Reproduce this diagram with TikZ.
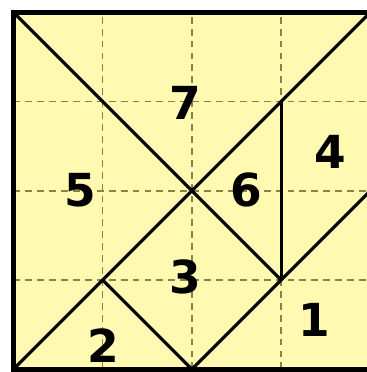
\documentclass[tikz,border=0pt]{standalone}
\usepackage{fontspec}
\newfontfamily\digitfont{DejaVu Sans}
\usetikzlibrary{calc}
\definecolor{paper}{RGB}{255,249,178}
\definecolor{gridline}{RGB}{135,130,70}

\begin{document}
\begin{tikzpicture}[
  piece/.style={line width=1pt, black},
  frame/.style={line width=1.7pt, black},
  guide/.style={gridline, line width=0.5pt, dash pattern=on 2.2pt off 1.6pt},
  num/.style={font=\digitfont\bfseries\fontsize{14.5}{14.5}\selectfont, inner sep=0pt},
]
\useasboundingbox (-0.15,-0.03) rectangle (3.962,4.138);

% ---- corners and cut points ----
\coordinate (sw) at (0,0);
\coordinate (se) at (4,0);
\coordinate (nw) at (0,4);
\coordinate (ne) at (4,4);
\coordinate (c)  at (2,2);
\coordinate (b2) at (2,0);
\coordinate (p11) at (1,1);
\coordinate (p31) at (3,1);
\coordinate (p33) at (3,3);
\coordinate (r2) at (4,2);

\fill[paper] (sw) rectangle (ne);

% ---- grid ----
\foreach \k in {1,2,3} {
  \draw[guide] (\k,0) -- (\k,4);
  \draw[guide] (0,\k) -- (4,\k);
}

% ---- pieces ----
\draw[piece] (nw) -- (c) -- (p31);
\draw[piece] (sw) -- (p11) -- (c) -- (p33) -- (ne);
\draw[piece] (p33) -- (p31);
\draw[piece] (b2) -- (p31) -- (r2);
\draw[piece] (p11) -- (b2);

\draw[frame] (sw) rectangle (ne);

% ---- labels ----
\node[num] (n7) at (1.93,2.98) {7};
\node[num] (n5) at (0.75,2.01) {5};
\node[num] (n6) at (2.61,2.01) {6};
\node[num] (n4) at (3.55,2.44) {4};
\node[num] (n3) at (1.93,1.03) {3};
\node[num] (n2) at (1.01,0.27) {2};
\node[num] (n1) at (3.37,0.55) {1};

\end{tikzpicture}
\end{document}
